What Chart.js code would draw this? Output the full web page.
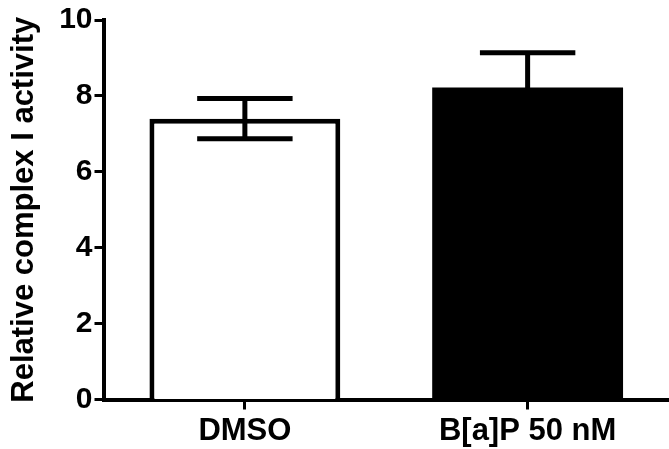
<!DOCTYPE html>
<html>
<head>
<meta charset="utf-8">
<script src="https://cdn.jsdelivr.net/npm/chart.js@4/dist/chart.umd.min.js"></script>
<style>
  html, body { margin: 0; padding: 0; background: #ffffff; }
  #wrap { width: 669px; height: 449px; }
</style>
</head>
<body>
<div id="wrap"><canvas id="c" width="669" height="449"></canvas></div>
<script>
// ---- data ----
const categories = ['DMSO', 'B[a]P 50 nM'];
const meanValues = [7.4, 8.22];
const errorValues = [0.53, 0.92];
const yTicks = [0, 2, 4, 6, 8, 10];
const yTitle = 'Relative complex I activity';

const FONT = '"Liberation Sans", Arial, Helvetica, sans-serif';

const errorBarPlugin = {
  id: 'errorBars',
  afterDatasetsDraw(chart) {
    const ctx = chart.ctx;
    const yScale = chart.scales.y;
    const meta = chart.getDatasetMeta(0);
    ctx.save();
    ctx.strokeStyle = '#000';
    ctx.lineWidth = 5;
    ctx.lineCap = 'butt';
    meta.data.forEach((bar, i) => {
      const m = meanValues[i], e = errorValues[i];
      const yHi = yScale.getPixelForValue(m + e);
      const yLo = yScale.getPixelForValue(m - e);
      const half = bar.width / 4;
      ctx.beginPath();
      ctx.moveTo(bar.x, yLo);
      ctx.lineTo(bar.x, yHi);
      ctx.moveTo(bar.x - half, yHi);
      ctx.lineTo(bar.x + half, yHi);
      ctx.moveTo(bar.x - half, yLo);
      ctx.lineTo(bar.x + half, yLo);
      ctx.stroke();
    });
    ctx.restore();
  }
};

new Chart(document.getElementById('c'), {
  type: 'bar',
  data: {
    labels: categories,
    datasets: [{
      data: meanValues,
      backgroundColor: ['#ffffff', '#000000'],
      borderColor: '#000000',
      borderWidth: [5, 0],
      borderSkipped: 'start',
      categoryPercentage: 1,
      barPercentage: 0.675
    }]
  },
  options: {
    responsive: false,
    devicePixelRatio: 1,
    animation: false,
    layout: { padding: { left: 0, right: -10, top: 20, bottom: 0 } },
    plugins: { legend: { display: false }, tooltip: { enabled: false } },
    scales: {
      x: {
        type: 'category',
        offset: true,
        border: { display: true, color: '#000', width: 4 },
        grid: { offset: false, drawOnChartArea: false, drawTicks: true, tickLength: 10, tickWidth: 3, tickColor: '#000' },
        ticks: { color: '#000', padding: 3, maxRotation: 0, font: { family: FONT, size: 31, weight: 'bold' } },
        afterFit(scale) { scale.height = 49.5; }
      },
      y: {
        min: 0,
        max: 10,
        afterBuildTicks(scale) { scale.ticks = yTicks.map(v => ({ value: v })); },
        border: { display: true, color: '#000', width: 4 },
        grid: { drawOnChartArea: false, drawTicks: true, tickLength: 9, tickWidth: 3, tickColor: '#000' },
        ticks: { color: '#000', padding: 2, font: { family: FONT, size: 30, weight: 'bold' } },
        title: {
          display: true,
          text: yTitle,
          color: '#000',
          padding: { top: 9, bottom: 0 },
          font: { family: FONT, size: 31, weight: 'bold', lineHeight: 1 }
        },
        afterFit(scale) { scale.width = 103.5; }
      }
    }
  },
  plugins: [errorBarPlugin]
});
</script>
</body>
</html>
